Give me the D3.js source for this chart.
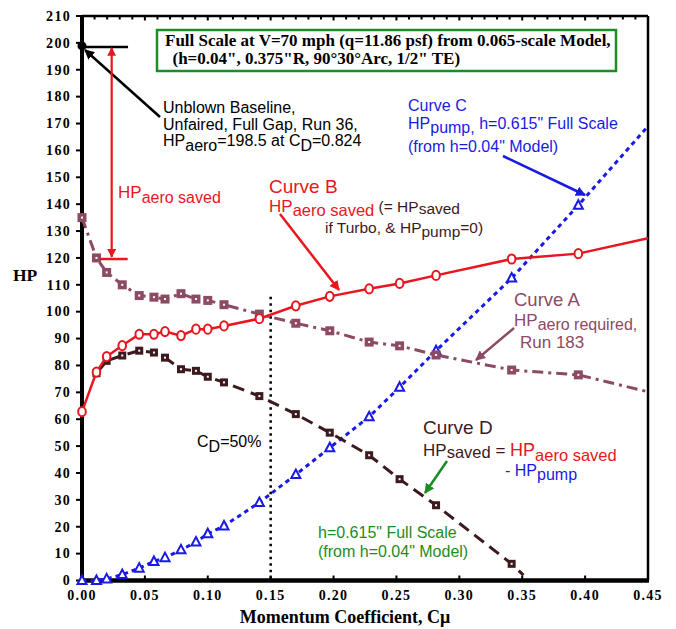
<!DOCTYPE html>
<html><head><meta charset="utf-8">
<script src="https://cdn.jsdelivr.net/npm/d3@7"></script>
<style>body{margin:0;background:#fff}</style>
</head><body>
<svg id="c" width="676" height="629"></svg>
<script>
// ---- data ----
const cmu    = [0, 0.0115, 0.0196, 0.032, 0.0455, 0.0572, 0.066, 0.0787, 0.0906, 0.100, 0.1129, 0.141, 0.170, 0.197, 0.2283, 0.2525, 0.2815, 0.3416, 0.3946];
const curveA = [135, 120, 114.6, 110, 106, 105.4, 104.7, 106.7, 104.7, 104.2, 102.6, 99.1, 95.7, 92.9, 88.7, 87.3, 83.9, 78.3, 76.5];
const curveB = [62.8, 77.5, 83.3, 87.4, 91.6, 91.6, 92.6, 91.1, 93.5, 93.5, 94.7, 97.4, 102.2, 105.7, 108.5, 110.5, 113.5, 119.6, 121.6];
const curveC = [0, 0, 0.6, 2.2, 4.6, 7.1, 8.5, 11.4, 14.3, 17.4, 20.3, 29, 39.4, 49.4, 60.9, 71.9, 85.5, 112.5, 139.6];
const curveD = [null, 77.1, 81.7, 83.7, 85.5, 84.8, 82.9, 78.6, 78, 75.8, 73.7, 68.6, 61.9, 55, 46.6, 37.7, 28, 6.2, null];
// line extensions beyond last marker [cmu, HP]
const endA = [0.45, 70.2];
const endB = [0.45, 127.3];
const endC = [0.45, 169];
const endD = [0.351, 2];
const baselineHP = 198.5;
const cd50 = 0.15;
const cd50Top = 105.6;
const yTicks = d3.range(0, 211, 10);
const xTicks = [0, 0.05, 0.10, 0.15, 0.20, 0.25, 0.30, 0.35, 0.40, 0.45];
const xMinor = d3.range(0, 0.4501, 0.01);

const red = "#e8161e", blue = "#1a1ae6", mauve = "#8c4a64", dark = "#3c1a1e", green = "#1c8c24";
const serif = "'Liberation Serif','Times New Roman',serif";
const sans = "'Liberation Sans',Arial,Helvetica,sans-serif";

const svg = d3.select("#c");
const x = d3.scaleLinear().domain([0, 0.45]).range([82, 648]);
const y = d3.scaleLinear().domain([0, 210]).range([580.5, 16]);

// arrow markers
const defs = svg.append("defs");
[["red", red], ["blue", blue], ["mauve", mauve], ["green", green], ["black", "#000"]].forEach(([n, c]) => {
  defs.append("marker").attr("id", "ar-" + n).attr("viewBox", "0 0 10 10").attr("refX", 9).attr("refY", 5)
    .attr("markerWidth", 4).attr("markerHeight", 4).attr("orient", "auto-start-reverse")
    .append("path").attr("d", "M0,0L10,5L0,10z").attr("fill", c);
});

// ---- axes ----
const g = svg.append("g");
g.selectAll(".yt").data(yTicks).join("line")
  .attr("x1", 76).attr("x2", x(0)).attr("y1", d => y(d)).attr("y2", d => y(d))
  .attr("stroke", "#000").attr("stroke-width", 2);
g.selectAll(".yl").data(yTicks).join("text")
  .attr("x", 71).attr("y", d => y(d) + 4.8).attr("text-anchor", "end")
  .attr("font-family", serif).attr("font-weight", "bold").attr("font-size", 14).attr("letter-spacing", 1.3)
  .text(d => d);
g.selectAll(".tt").data(xMinor).join("line")
  .attr("x1", d => x(d)).attr("x2", d => x(d)).attr("y1", y(210)).attr("y2", (d, i) => y(210) + (i % 5 === 0 ? 4.5 : 3.5))
  .attr("stroke", "#000").attr("stroke-width", 2);
g.selectAll(".bt").data(xTicks).join("line")
  .attr("x1", d => x(d)).attr("x2", d => x(d)).attr("y1", y(0)).attr("y2", y(0) - 5)
  .attr("stroke", "#000").attr("stroke-width", 2);
g.selectAll(".xl").data(xTicks).join("text")
  .attr("x", d => x(d)).attr("y", 600).attr("text-anchor", "middle")
  .attr("font-family", serif).attr("font-weight", "bold").attr("font-size", 14).attr("letter-spacing", 1.3)
  .text(d => d3.format(".2f")(d));
g.append("line").attr("x1", x(0)).attr("x2", x(0.45)).attr("y1", y(210)).attr("y2", y(210)).attr("stroke", "#000").attr("stroke-width", 2.5);
g.append("line").attr("x1", x(0.45)).attr("x2", x(0.45)).attr("y1", y(210)).attr("y2", y(0)).attr("stroke", "#000").attr("stroke-width", 2.5);
g.append("line").attr("x1", x(0)).attr("x2", x(0)).attr("y1", y(210) - 1).attr("y2", y(0) + 2).attr("stroke", "#000").attr("stroke-width", 4);
g.append("line").attr("x1", x(0) - 2).attr("x2", x(0.45) + 1).attr("y1", y(0)).attr("y2", y(0)).attr("stroke", "#000").attr("stroke-width", 4.5);

// axis titles
svg.append("text").attr("x", 13).attr("y", 281).attr("font-family", serif).attr("font-weight", "bold").attr("font-size", 17.5).text("HP");
svg.append("text").attr("x", 345).attr("y", 623).attr("text-anchor", "middle").attr("font-family", serif)
  .attr("font-weight", "bold").attr("font-size", 18).text("Momentum Coefficient, C\u03bc");

// ---- CD = 50% line ----
svg.append("line").attr("x1", x(cd50)).attr("x2", x(cd50)).attr("y1", y(cd50Top)).attr("y2", y(0))
  .attr("stroke", "#000").attr("stroke-width", 2.5).attr("stroke-dasharray", "2.5,4");

// ---- curves ----
function pts(vals, end) {
  const p = cmu.map((c, i) => [c, vals[i]]).filter(d => d[1] != null);
  if (end) p.push(end);
  return p;
}
const line = d3.line().x(d => x(d[0])).y(d => y(d[1]));
function drawLine(vals, end, color, dash, w) {
  svg.append("path").attr("d", line(pts(vals, end))).attr("fill", "none").attr("stroke", color)
    .attr("stroke-width", w).attr("stroke-dasharray", dash);
}
const mk = (vals) => cmu.map((c, i) => [c, vals[i]]).filter(d => d[1] != null);

// Curve C
drawLine(curveC, endC, blue, "4.5,4", 3);
svg.selectAll(".mc").data(mk(curveC)).join("path")
  .attr("d", d => { const cx = x(d[0]), cy = y(d[1]); return `M${cx},${cy - 5}L${cx + 4.5},${cy + 3.5}L${cx - 4.5},${cy + 3.5}Z`; })
  .attr("fill", "#fff").attr("stroke", blue).attr("stroke-width", 2);
// Curve D
drawLine(curveD, endD, dark, "12,7", 3);
svg.selectAll(".md").data(mk(curveD)).join("rect")
  .attr("x", d => x(d[0]) - 4).attr("y", d => y(d[1]) - 4).attr("width", 8).attr("height", 8).attr("fill", dark);
svg.selectAll(".md2").data(mk(curveD)).join("rect")
  .attr("x", d => x(d[0]) - 1).attr("y", d => y(d[1]) - 1).attr("width", 2).attr("height", 2).attr("fill", "#fff");
// Curve A
drawLine(curveA, endA, mauve, "11,5,3,5", 3);
svg.selectAll(".ma").data(mk(curveA)).join("rect")
  .attr("x", d => x(d[0]) - 4.5).attr("y", d => y(d[1]) - 4.5).attr("width", 9).attr("height", 9).attr("fill", mauve);
svg.selectAll(".ma2").data(mk(curveA)).join("rect")
  .attr("x", d => x(d[0]) - 1).attr("y", d => y(d[1]) - 1).attr("width", 2).attr("height", 2).attr("fill", "#fff");
// Curve B
drawLine(curveB, endB, red, null, 2.5);
svg.selectAll(".mb").data(mk(curveB)).join("ellipse")
  .attr("cx", d => x(d[0])).attr("cy", d => y(d[1])).attr("rx", 3.8).attr("ry", 4.6)
  .attr("fill", "#fff").attr("stroke", red).attr("stroke-width", 2);

// ---- baseline annotation ----
svg.append("line").attr("x1", x(0)).attr("x2", x(0.0366)).attr("y1", y(baselineHP)).attr("y2", y(baselineHP))
  .attr("stroke", "#000").attr("stroke-width", 2.5);
svg.append("circle").attr("cx", x(0)).attr("cy", y(baselineHP) - 1).attr("r", 4.5).attr("fill", "#000");
svg.append("line").attr("x1", 160).attr("y1", 117).attr("x2", 85).attr("y2", 50)
  .attr("stroke", "#000").attr("stroke-width", 2.5).attr("marker-end", "url(#ar-black)");
svg.append("line").attr("x1", x(0.0236)).attr("x2", x(0.0236)).attr("y1", y(120) - 1).attr("y2", y(baselineHP) + 1)
  .attr("stroke", red).attr("stroke-width", 2.2).attr("marker-end", "url(#ar-red)").attr("marker-start", "url(#ar-red)");
svg.append("line").attr("x1", x(0.0143)).attr("x2", x(0.0363)).attr("y1", y(119.6)).attr("y2", y(119.6))
  .attr("stroke", red).attr("stroke-width", 2.5);

// ---- title box ----
svg.append("rect").attr("x", 157).attr("y", 30).attr("width", 459).attr("height", 41)
  .attr("fill", "#fff").attr("stroke", green).attr("stroke-width", 2.5);
svg.append("text").attr("x", 165).attr("y", 45.5).attr("font-family", serif).attr("font-weight", "bold").attr("font-size", 17)
  .text("Full Scale at V=70 mph (q=11.86 psf) from 0.065-scale Model,");
svg.append("text").attr("x", 172.5).attr("y", 63.5).attr("font-family", serif).attr("font-weight", "bold").attr("font-size", 17)
  .text("(h=0.04\", 0.375\"R, 90\u00b030\u00b0Arc, 1/2\" TE)");

// ---- rich text helper ----
function rich(x0, y0, size, parts) {
  const t = svg.append("text").attr("x", x0).attr("y", y0).attr("font-family", sans).attr("font-size", size);
  let shift = 0;
  parts.forEach(p => {
    const s = p.sub ? (p.shift || 4) : 0;
    t.append("tspan").attr("dy", s - shift).attr("fill", p.c || "#000")
      .attr("font-size", p.size || size).text(p.t);
    shift = s;
  });
  return t;
}

rich(163, 113, 16, [{t: "Unblown Baseline,"}]);
rich(163, 130, 16, [{t: "Unfaired, Full Gap, Run 36,"}]);
rich(163, 146, 16, [{t: "HP"}, {t: "aero", sub: true, shift: 5}, {t: "=198.5 at C"}, {t: "D", sub: true, shift: 5}, {t: "=0.824"}]);

rich(118, 198, 17, [{t: "HP", c: red}, {t: "aero saved", c: red, sub: true, shift: 5, size: 16}]);

// Curve B
rich(269, 193, 19, [{t: "Curve B", c: red}]);
rich(269, 212, 17, [{t: "HP", c: red}, {t: "aero saved", c: red, sub: true, shift: 4, size: 16.5}, {t: " (= HP", c: dark, size: 15.5}, {t: "saved", c: dark, sub: true, shift: 2, size: 15.5}]);
rich(325, 233, 15.5, [{t: "if Turbo, & HP", c: dark}, {t: "pump", c: dark, sub: true, shift: 4}, {t: "=0)", c: dark}]);
svg.append("line").attr("x1", 280).attr("y1", 214).attr("x2", 339).attr("y2", 290)
  .attr("stroke", red).attr("stroke-width", 2.5).attr("marker-end", "url(#ar-red)");

// Curve C
rich(408, 111, 16, [{t: "Curve C", c: blue}]);
rich(408, 129, 16, [{t: "HP", c: blue}, {t: "pump,", c: blue, sub: true, shift: 4}, {t: " h=0.615\" Full Scale", c: blue}]);
rich(408, 151.5, 16, [{t: "(from h=0.04\" Model)", c: blue}]);
svg.append("line").attr("x1", 503).attr("y1", 156).attr("x2", 585).attr("y2", 195)
  .attr("stroke", blue).attr("stroke-width", 2.5).attr("marker-end", "url(#ar-blue)");

// Curve A
rich(514, 306, 18.5, [{t: "Curve A", c: mauve}]);
rich(514, 326, 17, [{t: "HP", c: mauve}, {t: "aero required,", c: mauve, sub: true, shift: 4, size: 16}]);
rich(520, 348, 17, [{t: "Run 183", c: mauve}]);
svg.append("line").attr("x1", 514).attr("y1", 328).attr("x2", 476).attr("y2", 360)
  .attr("stroke", mauve).attr("stroke-width", 2.5).attr("marker-end", "url(#ar-mauve)");

// Curve D
rich(423, 434, 19, [{t: "Curve D", c: dark}]);
rich(423, 456, 17, [{t: "HP", c: dark}, {t: "saved", c: dark, sub: true, shift: 2, size: 16.5}, {t: " = ", c: dark}, {t: "HP", c: red, size: 18}, {t: "aero saved", c: red, sub: true, shift: 5, size: 16.5}]);
rich(505, 476, 16, [{t: "- HP", c: blue}, {t: "pump", c: blue, sub: true, shift: 4}]);
svg.append("line").attr("x1", 447).attr("y1", 461).attr("x2", 425).attr("y2", 493)
  .attr("stroke", green).attr("stroke-width", 2.5).attr("marker-end", "url(#ar-green)");
rich(318, 538, 16, [{t: "h=0.615\" Full Scale", c: green}]);
rich(318, 557, 16, [{t: "(from h=0.04\" Model)", c: green}]);

rich(197, 447, 16, [{t: "C"}, {t: "D", sub: true, shift: 5}, {t: "=50%"}]);
</script>
</body></html>
